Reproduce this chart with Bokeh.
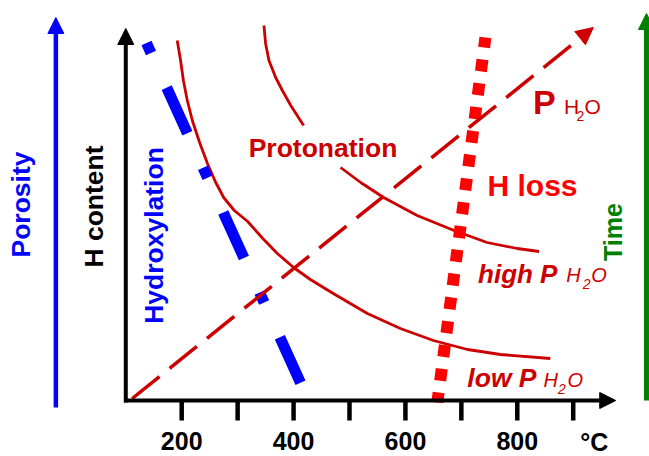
import numpy as np
from bokeh.plotting import figure
from bokeh.models import Range1d, Arrow, NormalHead
from bokeh.core.properties import value
from bokeh.embed import file_html
from bokeh.resources import INLINE

# ---------------- data (temperature in °C, H content in arbitrary units) ----------------
tick_temps = [200, 300, 400, 500, 600, 700, 800, 900]
label_temps = [200, 400, 600, 800]
tick_labels = ["200", "400", "600", "800"]

# low P(H2O) protonation curve
low_p_temp = [192, 198, 203, 210, 219, 232, 246, 260, 275, 294, 318, 345, 371, 400,
              430, 471, 532, 591, 650, 711, 770, 859]
low_p_h = [360, 340, 320, 300, 280, 258, 237, 219, 203, 190, 179, 162, 147, 133,
           121, 107, 87, 72, 60, 51, 46, 42]

# high P(H2O) protonation curve (gap where the "Protonation" label sits)
high_p_temp = [347, 350, 356, 368, 380, 395, 418, np.nan, 484, 520, 561, 621, 687, 746, 800, 839]
high_p_h = [375, 357, 340, 323, 310, 295, 275, np.nan, 233, 218, 203, 185, 170, 158, 152, 149]

# hydroxylation trend (blue dash-dot)
hydrox_temp = [137, 413]
hydrox_h = [357.5, 17]

# H loss boundary (red dotted)
h_loss_temp = [657, 743]
h_loss_h = [-2, 363]

# P(H2O) direction (red dashed arrow)
p_h2o_temp = [111.5, 936]
p_h2o_h = [2, 373]

# frame axes and side arrows
temp_axis = [97, 976]
h_axis = [-2, 372]
porosity_arrow = [-25, -7, 383]
time_arrow = [1031, 0, 387]

DARK_RED = "#CC0000"
RED = "#FF0000"
BLUE = "#0000FF"
GREEN = "#008000"
FONT = value("Liberation Sans")

p = figure(width=649, height=456, x_range=Range1d(-124, 1036.4), y_range=Range1d(-56, 400),
           output_backend="svg", toolbar_location=None, min_border=0,
           x_axis_location=None, y_axis_location=None, outline_line_color=None)
p.xgrid.visible = False
p.ygrid.visible = False
p.background_fill_color = "white"
p.border_fill_color = "white"


def label(x, y, txt, color, size, style="bold", angle=0.0, align="left"):
    p.text(x=[x], y=[y], text=[txt], text_color=color, text_font=FONT,
           text_font_size=value(f"{size}px"), text_font_style=style, angle=angle,
           text_align=align, text_baseline="middle")


# curves
p.line(low_p_temp, low_p_h, line_color=DARK_RED, line_width=2.8, line_join="round")
p.line(np.array(high_p_temp), np.array(high_p_h), line_color=DARK_RED, line_width=2.8, line_join="round")

# hydroxylation dash-dot
p.line(hydrox_temp, hydrox_h, line_color=BLUE, line_width=11, line_dash="11 38 50 38")

# H loss dotted
p.line(h_loss_temp, h_loss_h, line_color=RED, line_width=12, line_dash="12 12", line_dash_offset=2)

# P H2O dashed arrow
p.add_layout(Arrow(x_start=p_h2o_temp[0], y_start=p_h2o_h[0], x_end=p_h2o_temp[1], y_end=p_h2o_h[1],
                   line_color=DARK_RED, line_width=3.5, line_dash="35 13",
                   end=NormalHead(size=17, fill_color=DARK_RED, line_color=DARK_RED, line_width=1)))

# axes
p.add_layout(Arrow(x_start=temp_axis[0], y_start=0, x_end=temp_axis[1], y_end=0,
                   line_color="black", line_width=4,
                   end=NormalHead(size=16, fill_color="black", line_color="black", line_width=1)))
p.add_layout(Arrow(x_start=100, y_start=h_axis[0], x_end=100, y_end=h_axis[1],
                   line_color="black", line_width=4,
                   end=NormalHead(size=16, fill_color="black", line_color="black", line_width=1)))
p.segment(x0=tick_temps, y0=0, x1=tick_temps, y1=-20, line_color="black", line_width=4.5)
p.text(x=label_temps, y=-40, text=tick_labels, text_color="black", text_font=FONT,
       text_font_size=value("25px"), text_font_style="bold", text_align="center",
       text_baseline="middle")
label(912.5, -41, "°C", "black", 25)

# side arrows
p.add_layout(Arrow(x_start=porosity_arrow[0], y_start=porosity_arrow[1], x_end=porosity_arrow[0],
                   y_end=porosity_arrow[2], line_color=BLUE, line_width=4.5,
                   end=NormalHead(size=16, fill_color=BLUE, line_color=BLUE, line_width=1)))
p.add_layout(Arrow(x_start=time_arrow[0], y_start=time_arrow[1], x_end=time_arrow[0],
                   y_end=time_arrow[2], line_color=GREEN, line_width=5,
                   end=NormalHead(size=16, fill_color=GREEN, line_color=GREEN, line_width=1)))

# rotated labels
label(-86.5, 196, "Porosity", BLUE, 26.5, angle=np.pi / 2, align="center")
label(43.2, 194, "H content", "black", 26.5, angle=np.pi / 2, align="center")
label(150.7, 165, "Hydroxylation", BLUE, 26.5, angle=np.pi / 2, align="center")
label(972, 168.5, "Time", GREEN, 25, angle=np.pi / 2, align="center")

# annotations
label(452.6, 252.6, "Protonation", DARK_RED, 26.5, align="center")
label(827.2, 215.5, "H loss", RED, 30, align="center")

label(828, 298.6, "P", DARK_RED, 34)
label(883.5, 294.05, "H", DARK_RED, 21, style="normal")
label(906.1, 284.9, "2", DARK_RED, 14, style="normal")
label(920.2, 294.05, "O", DARK_RED, 21, style="normal")

label(729.8, 126.8, "high P", DARK_RED, 26, style="bold italic")
label(887.5, 125.3, "H", DARK_RED, 20, style="italic")
label(917.0, 116.9, "2", DARK_RED, 14, style="italic")
label(932.2, 125.3, "O", DARK_RED, 20, style="italic")

label(710.7, 22.6, "low P", DARK_RED, 26.5, style="bold italic")
label(846.9, 20.3, "H", DARK_RED, 20, style="italic")
label(872.8, 11.9, "2", DARK_RED, 14, style="italic")
label(889.8, 20.3, "O", DARK_RED, 20, style="italic")

open("out.html", "w").write(file_html(p, INLINE))
